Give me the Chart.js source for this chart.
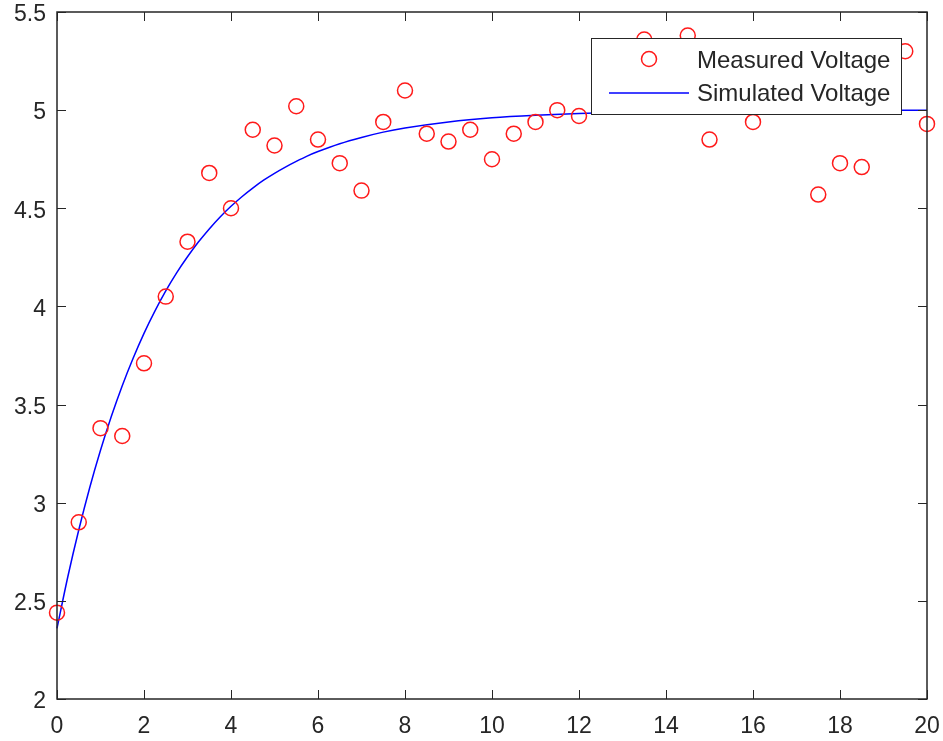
<!DOCTYPE html>
<html>
<head>
<meta charset="utf-8">
<script src="https://cdn.jsdelivr.net/npm/chart.js@4.4.1/dist/chart.umd.min.js"></script>
<style>
  body { margin: 0; background: #fff; }
  #wrap { width: 943px; height: 741px; position: relative; }
</style>
</head>
<body>
<div id="wrap"><canvas id="myChart"></canvas></div>
<script>
// measured samples every 0.5 s
var times = [0,0.5,1,1.5,2,2.5,3,3.5,4,4.5,5,5.5,6,6.5,7,7.5,8,8.5,9,9.5,10,
             10.5,11,11.5,12,12.5,13,13.5,14,14.5,15,15.5,16,16.5,17,17.5,18,18.5,19,19.5,20];
// null where the legend box hides the point
var measured = [2.44,2.90,3.38,3.34,3.71,4.05,4.33,4.68,4.50,4.90,4.82,5.02,4.85,4.73,4.59,4.94,5.10,4.88,4.84,4.90,4.75,
                4.88,4.94,5.00,4.97,null,null,5.36,null,5.38,4.85,null,4.94,null,null,4.57,4.73,4.71,null,5.30,4.93];
// simulated curve, read denser where it bends
var simTimes = [0,0.25,0.5,0.75,1,1.25,1.5,1.75,2,2.25,2.5,2.75,3,3.25,3.5,3.75,4,4.25,4.5,4.75,5,5.25,5.5,5.75,6,6.5,7,7.5,8,
                9,10,11,12,13,14,16,18,20];
var simulated = [2.360,2.624,2.861,3.075,3.267,3.440,3.596,3.736,3.863,3.976,4.079,4.171,4.253,4.328,4.395,4.456,
                 4.510,4.559,4.603,4.643,4.678,4.710,4.739,4.766,4.789,4.829,4.861,4.888,4.909,
                 4.940,4.961,4.974,4.983,4.989,4.993,4.997,4.999,5.000];
var xTicks = [0,2,4,6,8,10,12,14,16,18,20];
var yTicks = [2,2.5,3,3.5,4,4.5,5,5.5];
var seriesNames = ['Measured Voltage', 'Simulated Voltage'];

var axisColor = '#262626';
var fontStack = '"Liberation Sans", Arial, Helvetica, sans-serif';

var measuredPts = [];
for (var i = 0; i < times.length; i++) {
  if (measured[i] !== null) measuredPts.push({x: times[i], y: measured[i]});
}
var simulatedPts = [];
for (var j = 0; j < simTimes.length; j++) {
  simulatedPts.push({x: simTimes[j], y: simulated[j]});
}

// matlab style box with inward ticks, plus the legend drawn on top of the data
var boxPlugin = {
  id: 'boxPlugin',
  afterDatasetsDraw: function(chart) {
    var ctx = chart.ctx, a = chart.chartArea;
    var xs = chart.scales.x, ys = chart.scales.y;
    var tl = 9;
    ctx.save();
    ctx.strokeStyle = axisColor;
    ctx.lineWidth = 1;
    ctx.beginPath();
    xTicks.forEach(function(t){
      var px = Math.round(xs.getPixelForValue(t)) + 0.5;
      ctx.moveTo(px, a.bottom); ctx.lineTo(px, a.bottom - tl);
      ctx.moveTo(px, a.top); ctx.lineTo(px, a.top + tl);
    });
    yTicks.forEach(function(t){
      var py = Math.round(ys.getPixelForValue(t)) + 0.5;
      ctx.moveTo(a.left, py); ctx.lineTo(a.left + tl, py);
      ctx.moveTo(a.right, py); ctx.lineTo(a.right - tl, py);
    });
    ctx.stroke();
    ctx.lineWidth = 1.5;
    ctx.strokeRect(a.left, a.top, a.right - a.left, a.bottom - a.top);

    // legend
    var lx = a.right - 26, ly = a.top + 26;
    var lw = 310, lh = 76;
    var x0 = lx - lw;
    ctx.fillStyle = '#fff';
    ctx.fillRect(x0, ly, lw, lh);
    ctx.lineWidth = 1;
    ctx.strokeStyle = axisColor;
    ctx.strokeRect(x0 + 0.5, ly + 0.5, lw, lh);

    var d0 = chart.data.datasets[0], d1 = chart.data.datasets[1];
    ctx.beginPath();
    ctx.strokeStyle = d0.borderColor;
    ctx.lineWidth = d0.borderWidth;
    ctx.arc(x0 + 58, ly + 21, d0.pointRadius, 0, Math.PI * 2);
    ctx.stroke();
    ctx.beginPath();
    ctx.strokeStyle = d1.borderColor;
    ctx.lineWidth = d1.borderWidth;
    ctx.moveTo(x0 + 18, ly + 55); ctx.lineTo(x0 + 98, ly + 55);
    ctx.stroke();

    ctx.fillStyle = axisColor;
    ctx.font = '24px ' + fontStack;
    ctx.textBaseline = 'middle';
    ctx.textAlign = 'left';
    ctx.fillText(d0.label, x0 + 106, ly + 23);
    ctx.fillText(d1.label, x0 + 106, ly + 56);
    ctx.restore();
  }
};

var myChart = document.getElementById('myChart').getContext('2d');
var chart = new Chart(myChart, {
  type: 'scatter',
  data: {
    datasets: [{
      label: seriesNames[0],
      data: measuredPts,
      showLine: false,
      pointStyle: 'circle',
      pointRadius: 7.5,
      pointHoverRadius: 7.5,
      borderWidth: 1.5,
      borderColor: '#ff1a1a',
      backgroundColor: 'rgba(0,0,0,0)',
      clip: false
    },
    {
      label: seriesNames[1],
      data: simulatedPts,
      showLine: true,
      pointRadius: 0,
      borderWidth: 1.5,
      borderColor: '#0000ff',
      backgroundColor: '#0000ff',
      cubicInterpolationMode: 'monotone',
      clip: false
    }]
  },
  options: {
    responsive: true,
    maintainAspectRatio: false,
    animation: false,
    layout: { padding: { top: 12, right: 16, left: 0, bottom: 0 } },
    plugins: {
      legend: { display: false },
      tooltip: { enabled: false },
      title: { display: false }
    },
    scales: {
      x: {
        type: 'linear',
        min: 0, max: 20,
        grid: { display: false, drawTicks: false },
        border: { display: false },
        afterBuildTicks: function(s){ s.ticks = xTicks.map(function(v){ return {value: v}; }); },
        afterFit: function(s){ s.height = 42; s.paddingLeft = 0; s.paddingRight = 0; },
        ticks: {
          padding: 14,
          maxRotation: 0,
          color: axisColor,
          font: { family: fontStack, size: 23 },
          callback: function(v){ return String(v); }
        }
      },
      y: {
        type: 'linear',
        min: 2, max: 5.5,
        grid: { display: false, drawTicks: false },
        border: { display: false },
        afterBuildTicks: function(s){ s.ticks = yTicks.map(function(v){ return {value: v}; }); },
        afterFit: function(s){ s.width = 57; s.paddingTop = 0; s.paddingBottom = 0; },
        ticks: {
          padding: 11,
          labelOffset: 3,
          color: axisColor,
          font: { family: fontStack, size: 23 },
          callback: function(v){ return String(v); }
        }
      }
    }
  },
  plugins: [boxPlugin]
});
</script>
</body>
</html>
